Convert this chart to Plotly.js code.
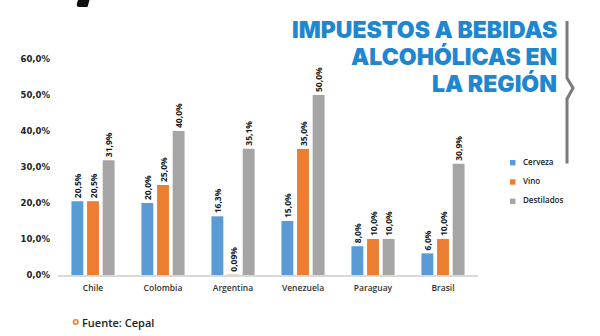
<!DOCTYPE html>
<html><head><meta charset="utf-8">
<script src="https://cdn.plot.ly/plotly-3.0.1.min.js"></script>
<style>body{margin:0;background:#fff}#c{width:600px;height:336px}</style>
</head><body><div id="c"></div>
<script>
const categories = ["Chile","Colombia","Argentina","Venezuela","Paraguay","Brasil"];
const seriesNames = ["Cerveza","Vino","Destilados"];
const cerveza = [20.5, 20.0, 16.3, 15.0, 8.0, 6.0];
const vino = [20.5, 25.0, 0.09, 35.0, 10.0, 10.0];
const destilados = [31.9, 40.0, 35.1, 50.0, 10.0, 30.9];
const yTicks = [0,10,20,30,40,50,60];
const titleLines = ["IMPUESTOS A BEBIDAS","ALCOHÓLICAS EN","LA REGIÓN"];
const source = "Fuente: Cepal";

const colors = ["#5b9bd5","#ed7d31","#a5a5a5"];
const W=600,H=336,L=58,R=122,T=59,B=61;
const PW=W-L-R, PH=H-T-B, BOT=H-B;
const X = px => (px-L)/PW;
const Y = py => (BOT-py)/PH;
const fmt = v => (Math.abs(v*10-Math.round(v*10))<1e-9 ? v.toFixed(1) : v.toFixed(2)).replace('.',',')+'%';

const series=[cerveza,vino,destilados];
const traces = series.map((vals,i)=>({
  type:'bar', name:seriesNames[i], x:categories, y:vals,
  marker:{color:colors[i]},
  text:vals.map(fmt), textposition:'outside', textangle:-90, constraintext:'none',
  textfont:{family:'Open Sans', size:8.5, color:'#1a1a1a', weight:'bold'},
  cliponaxis:false, showlegend:false, hoverinfo:'skip'
}));

const shapes=[], annotations=[];
// legend
const legY=[162.7,182,201.3];
seriesNames.forEach((n,i)=>{
  shapes.push({type:'rect',xref:'paper',yref:'paper',x0:X(510),x1:X(515.5),y0:Y(legY[i]-2.7),y1:Y(legY[i]+2.7),fillcolor:colors[i],line:{width:0}});
  annotations.push({xref:'paper',yref:'paper',x:X(521),y:Y(legY[i]-1.5),xanchor:'left',yanchor:'middle',text:n,showarrow:false,
    font:{family:'Open Sans',size:8,color:'#222',weight:600}});
});
// title lines
const tY=[30,57,84];
titleLines.forEach((t,i)=>annotations.push({xref:'paper',yref:'paper',x:X(559),y:Y(tY[i]),xanchor:'right',yanchor:'middle',
  text:t,showarrow:false,font:{family:'Inter',size:23,color:'#1f87cf',weight:900}}));
// source
annotations.push({xref:'paper',yref:'paper',x:X(80),y:Y(322),xanchor:'left',yanchor:'middle',text:source,showarrow:false,
  font:{family:'Open Sans',size:11,color:'#222',weight:600}});
shapes.push({type:'circle',xref:'paper',yref:'paper',x0:X(73.5),x1:X(78),y0:Y(319.8),y1:Y(324.3),line:{color:'#ed7d31',width:1.6}});
// right bracket
const p=(a,b)=>X(a)+','+Y(b);
shapes.push({type:'path',xref:'paper',yref:'paper',path:'M'+p(567,21)+' L'+p(567,78)+' L'+p(573,88)+' L'+p(567,99)+' L'+p(567,163.5),
  line:{color:'#7b7b7b',width:3}});
// top-left black mark
shapes.push({type:'path',xref:'paper',yref:'paper',path:'M'+p(78,0)+' L'+p(89.5,0)+' L'+p(87.5,7)+' L'+p(79,7)+' Q'+p(76,7)+' '+p(77,3)+' Z',
  fillcolor:'#111',line:{width:0}});

const layout={
  width:W,height:H,margin:{l:L,r:R,t:T,b:B},
  paper_bgcolor:'#fff',plot_bgcolor:'#fff',
  barmode:'group',bargap:0.33,bargroupgap:0.24,
  xaxis:{type:'category',range:[-0.5,5.5],showgrid:false,showline:true,linecolor:'#d9d9d9',linewidth:1.5,ticks:'',
    ticklabelstandoff:4,
    tickfont:{family:'Open Sans',size:8.5,color:'#333',weight:600},fixedrange:true},
  yaxis:{range:[0,60],tickvals:yTicks,ticktext:yTicks.map(fmt),showgrid:false,zeroline:false,showline:false,ticks:'',
    ticklabelstandoff:7,
    tickfont:{family:'DejaVu Sans',size:8.5,color:'#222',weight:'bold'},fixedrange:true},
  shapes,annotations
};
Plotly.newPlot('c',traces,layout,{displayModeBar:false,staticPlot:true});
</script></body></html>
